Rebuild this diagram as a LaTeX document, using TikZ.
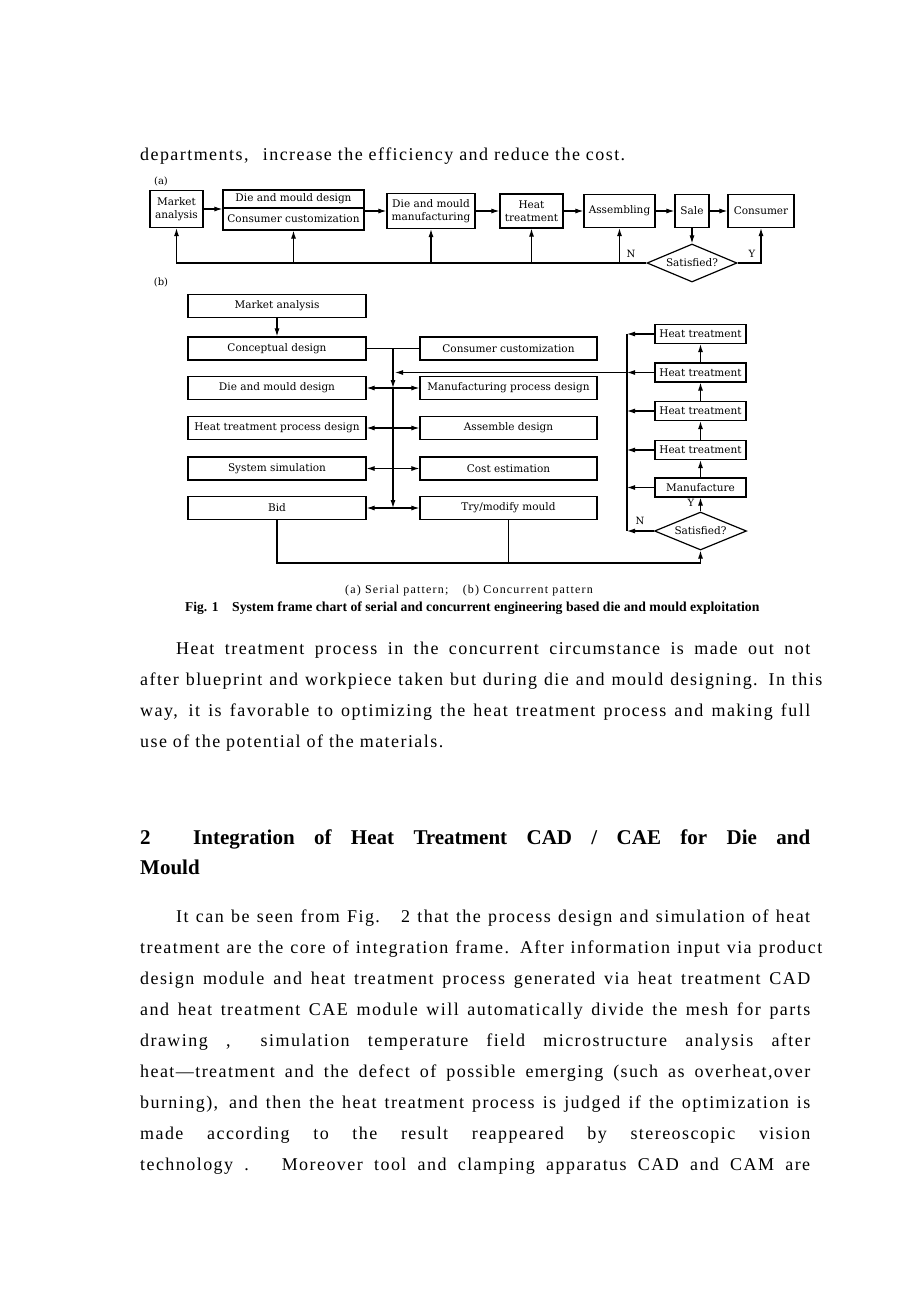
\documentclass[tikz,border=0pt]{standalone}
\usepackage{fontspec}
\setmainfont{Liberation Serif}[LetterSpace=8]
\newfontfamily\capfont{Liberation Serif}
\newfontfamily\capwide{Liberation Serif}[LetterSpace=10]
\newfontfamily\figfont{DejaVu Serif}
\usetikzlibrary{arrows.meta,positioning,shapes.geometric}
\newcommand\bodyfont{\fontsize{18}{31}\selectfont}
% one justified text line of the page
\newcommand\jline[5]{\node[para] (#1) at (#2,#3) {\makebox[#4pt][s]{#5}};}

\begin{document}
\begin{tikzpicture}[
  x=1pt,y=-1pt,
  para/.style={anchor=base west,inner sep=0pt,font=\bodyfont},
  box/.style={draw,line width=1.2pt,inner sep=1pt,align=center,font=\figfont\fontsize{10.5}{12.5}\selectfont},
  lbox/.style={box,minimum width=178pt,minimum height=23pt},
  mbox/.style={box,minimum width=177pt,minimum height=23pt},
  rbox/.style={box,minimum width=91pt,minimum height=19pt},
  dbox/.style={box,diamond,aspect=2.4,inner sep=0pt,minimum width=90pt,minimum height=38pt},
  lbl/.style={inner sep=0pt,font=\figfont\fontsize{10}{12}\selectfont},
  arrow/.style={-{Latex[length=8pt,width=5pt]},line width=1.1pt},
  darrow/.style={{Latex[length=8pt,width=5pt]}-{Latex[length=8pt,width=5pt]},line width=1.1pt},
  line/.style={line width=1.1pt}
]
\fill[white] (0,0) rectangle (920,1302);
\useasboundingbox (0,0) rectangle (920,1302);

% text above the figure
\node[para] (t0) at (140,160) {departments,\hspace{0.8em}increase the efficiency and reduce the cost.};

% (a) serial pattern
\node[lbl] (la) at (161,181) {(a)};
\node[box,minimum width=53pt,minimum height=37pt] (ma) at (176.5,209) {Market\\analysis};
\node[box,minimum width=141pt,minimum height=18pt] (dmd1) at (293.5,199) {Die and mould design};
\node[box,minimum width=141pt,minimum height=22pt] (dmd2) at (293.5,219) {Consumer customization};
\node[box,minimum width=88pt,minimum height=35pt] (dmm) at (431,211) {Die and mould\\manufacturing};
\node[box,minimum width=63pt,minimum height=34pt] (ht) at (531.5,211) {Heat\\treatment};
\node[box,minimum width=71pt,minimum height=33pt] (asm) at (619.5,211) {Assembling};
\node[box,minimum width=34pt,minimum height=33pt] (sale) at (692,211) {Sale};
\node[box,minimum width=66pt,minimum height=33pt] (cons) at (761,211) {Consumer};
\node[dbox] (sat) at (692,263) {Satisfied?};

\draw[arrow] (ma.east) -- (ma.east -| dmd1.west);
\draw[arrow] (dmm.west -| dmd2.east) -- (dmm.west);
\draw[arrow] (dmm) -- (ht);
\draw[arrow] (ht) -- (asm);
\draw[arrow] (asm) -- (sale);
\draw[arrow] (sale) -- (cons);
\draw[arrow] (sale) -- (sat);
\draw[arrow] (sat.west) -- (ma.south |- sat.west) -- (ma.south);
\foreach \n in {dmd2,dmm,ht,asm}
  \draw[arrow] (\n.south |- sat.west) -- (\n.south);
\draw[arrow] (sat.east) -| (cons.south);
\node[lbl] (na) at (631,254) {N};
\node[lbl] (ya) at (752,254) {Y};

% (b) concurrent pattern
\node[lbl] (lb) at (161,282) {(b)};
\coordinate (mbus) at (393,0);
\coordinate (rbus) at (627,0);
\coordinate (loop) at (0,563);

\node[lbox] (bma) at (277,306) {Market analysis};
\node[lbox] (bcd) at (277,348.5) {Conceptual design};
\node[lbox] (bdmd) at (277,388) {Die and mould design};
\node[lbox] (bht) at (277,428) {Heat treatment process design};
\node[lbox] (bss) at (277,468.5) {System simulation};
\node[lbox] (bbid) at (277,508) {Bid};

\node[mbox] (bcc) at (508.5,348.5) {Consumer customization};
\node[mbox] (bmpd) at (508.5,388) {Manufacturing process design};
\node[mbox] (bad) at (508.5,428) {Assemble design};
\node[mbox] (bce) at (508.5,468.5) {Cost estimation};
\node[mbox] (btm) at (508.5,508) {Try/modify mould};

\node[rbox] (bh1) at (700.5,334) {Heat treatment};
\node[rbox] (bh2) at (700.5,372.5) {Heat treatment};
\node[rbox] (bh3) at (700.5,411) {Heat treatment};
\node[rbox] (bh4) at (700.5,450) {Heat treatment};
\node[rbox] (bmf) at (700.5,487.5) {Manufacture};
\node[dbox,minimum width=92pt] (bsat) at (700.5,531) {Satisfied?};

\draw[arrow] (bma) -- (bcd);
\draw[line] (bcd) -- (bcc);
\draw[arrow] (mbus |- bcd) -- (mbus |- bdmd);
\draw[arrow] (mbus |- bdmd) -- (mbus |- bbid);
\foreach \l/\r in {bdmd/bmpd,bht/bad,bss/bce,bbid/btm}
  \draw[darrow] (\l) -- (\r);

\draw[line] (rbus |- bh1) -- (rbus |- bsat);
\foreach \n in {bh1,bh2,bh3,bh4,bmf,bsat}
  \draw[arrow] (\n.west) -- (rbus |- \n.west);
\draw[arrow] (rbus |- bh2) -- ([xshift=2pt]mbus |- bh2);
\draw[arrow] (bsat) -- (bmf);
\draw[arrow] (bmf) -- (bh4);
\draw[arrow] (bh4) -- (bh3);
\draw[arrow] (bh3) -- (bh2);
\draw[arrow] (bh2) -- (bh1);
\node[lbl] (yb) at (691,503) {Y};
\node[lbl] (nb) at (640,521) {N};

\draw[arrow] (bbid.south) -- (bbid.south |- loop) -| (bsat.south);
\draw[line] (btm.south) -- (btm.south |- loop);

% captions
\node[anchor=base west,inner sep=0pt,font=\capwide\fontsize{12}{14}\selectfont] (capab) at (345,593)
  {(a) Serial pattern;\hspace{1.2em}(b) Concurrent pattern};
\node[anchor=base west,inner sep=0pt,font=\capfont\bfseries\fontsize{13.5}{15}\selectfont] (fig) at (185,611) {Fig. 1};
\node[anchor=base west,inner sep=0pt,font=\capfont\bfseries\fontsize{13.7}{15}\selectfont] (figcap) at (232,611)
  {System frame chart of serial and concurrent engineering based die and mould exploitation};

% text below the figure
\jline{p1}{176}{654}{634}{Heat treatment process in the concurrent circumstance is made out not}
\jline{p2}{140}{685}{682}{after blueprint and workpiece taken but during die and mould designing. In this}
\jline{p3}{140}{716}{670}{way,\hspace{0.6em}it is favorable to optimizing the heat treatment process and making full}
\node[para] (p4) at (140,747) {use of the potential of the materials.};

\node[para,font=\capfont\fontsize{21}{31}\selectfont\bfseries] (h1) at (140,844)
  {\makebox[670pt][s]{2\hspace{1.1em} Integration of Heat Treatment CAD / CAE for Die and}};
\node[para,font=\capfont\fontsize{21}{31}\selectfont\bfseries] (h2) at (140,874) {Mould};

\jline{q1}{176}{922}{634}{It can be seen from Fig.\hspace{0.5em} 2 that the process design and simulation of heat}
\jline{q2}{140}{953}{682}{treatment are the core of integration frame. After information input via product}
\jline{q3}{140}{984}{670}{design module and heat treatment process generated via heat treatment CAD}
\jline{q4}{140}{1015}{670}{and heat treatment CAE module will automatically divide the mesh for parts}
\jline{q5}{140}{1046}{670}{drawing , \hspace{0.5em}simulation temperature field microstructure analysis after}
\jline{q6}{140}{1077}{670}{heat---treatment and the defect of possible emerging (such as overheat,over}
\jline{q7}{140}{1108}{670}{burning),\hspace{0.6em}and then the heat treatment process is judged if the optimization is}
\jline{q8}{140}{1139}{670}{made according to the result reappeared by stereoscopic vision}
\jline{q9}{140}{1170}{670}{technology .\hspace{0.5em} Moreover tool and clamping apparatus CAD and CAM are}
\end{tikzpicture}
\end{document}
